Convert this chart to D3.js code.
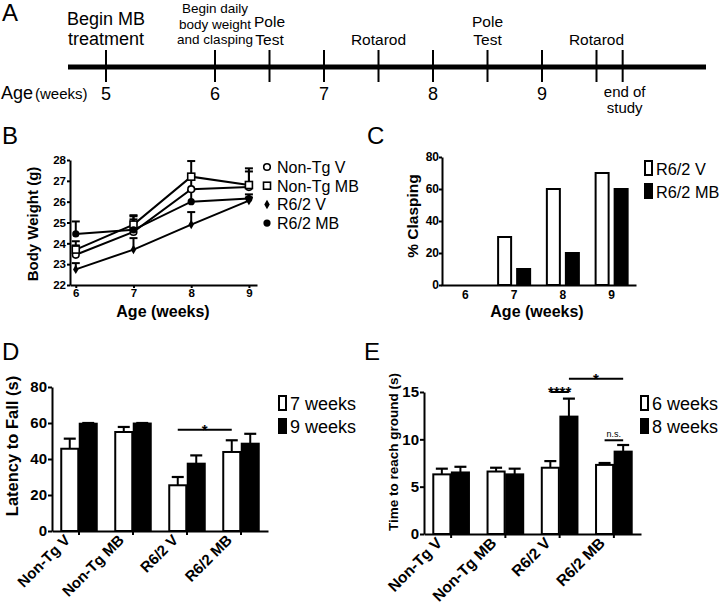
<!DOCTYPE html>
<html><head><meta charset="utf-8">
<script src="https://cdn.jsdelivr.net/npm/d3@7"></script>
<style>
body{margin:0;background:#fff}
svg{display:block}
text{font-family:"Liberation Sans",Arial,Helvetica,sans-serif;fill:#000}
</style>
</head><body>
<svg id="chart" width="720" height="606"></svg>
<script>
// ---------- Panel A: timeline ----------
const timelineWeeks = [5, 6, 7, 8, 9];
const timelineEvents = [
  {week: 5,   lines: ["Begin MB", "treatment"]},
  {week: 6,   lines: ["Begin daily", "body weight", "and clasping"]},
  {week: 6.5, lines: ["Pole", "Test"]},
  {week: 7.5, lines: ["Rotarod"]},
  {week: 8.5, lines: ["Pole", "Test"]},
  {week: 9.5, lines: ["Rotarod"]}
];
const endOfStudyWeek = 9.74;
const endOfStudyLines = ["end of", "study"];

// ---------- Panel B: body weight ----------
const bWeeks = [6, 7, 8, 9];
const bSeriesNames = ["Non-Tg V", "Non-Tg MB", "R6/2 V", "R6/2 MB"];
const bNonTgV     = [23.45, 24.55, 26.6, 26.7];
const bNonTgVErr  = [0.45, 0.6, 0.7, 0.75];
const bNonTgMB    = [23.7, 24.9, 27.2, 26.8];
const bNonTgMBErr = [0.4, 0.45, 0.75, 0.8];
const bR62V       = [22.75, 23.7, 24.9, 26.05];
const bR62VErr    = [0.3, 0.55, 0.6, 0.15];
const bR62MB      = [24.45, 24.65, 26.0, 26.15];
const bR62MBErr   = [0.6, 0.65, 0.55, 0.2];
const bYTicks = [22, 23, 24, 25, 26, 27, 28];

// ---------- Panel C: clasping ----------
const cWeeks = ["6", "7", "8", "9"];
const cSeriesNames = ["R6/2 V", "R6/2 MB"];
const cR62V  = [0, 30, 60, 70];
const cR62MB = [0, 10, 20, 60];
const cYTicks = [0, 20, 40, 60, 80];

// ---------- Panel D: rotarod ----------
const groups = ["Non-Tg V", "Non-Tg MB", "R6/2 V", "R6/2 MB"];
const dSeriesNames = ["7 weeks", "9 weeks"];
const d7w    = [45.7, 55.0, 25.4, 43.9];
const d7wErr = [5.6, 2.8, 4.6, 6.5];
const d9w    = [59.6, 59.7, 37.4, 48.5];
const d9wErr = [0.4, 0.3, 4.6, 5.5];
const dYTicks = [0, 20, 40, 60, 80];
const dSig = [{from: ["R6/2 V", 0], to: ["R6/2 MB", 0], value: 56.3, label: "*"}];

// ---------- Panel E: pole test ----------
const eSeriesNames = ["6 weeks", "8 weeks"];
const e6w    = [6.3, 6.6, 7.0, 7.3];
const e6wErr = [0.6, 0.4, 0.7, 0.2];
const e8w    = [6.5, 6.3, 12.4, 8.7];
const e8wErr = [0.6, 0.6, 1.9, 0.7];
const eYTicks = [0, 5, 10, 15];
const eSig = [
  {from: ["R6/2 V", 0], to: ["R6/2 V", 1], value: 15.0, label: "****"},
  {from: ["R6/2 V", 1], to: ["R6/2 MB", 1], value: 16.4, label: "*"},
  {from: ["R6/2 MB", 0], to: ["R6/2 MB", 1], value: 9.9, label: "n.s."}
];

// =====================================================
const svg = d3.select("#chart");
const FONT = '"Liberation Sans",Arial,Helvetica,sans-serif';

function styleAxis(g, fontSize) {
  g.selectAll("path.domain").attr("stroke", "#000").attr("stroke-width", 2);
  g.selectAll(".tick line").attr("stroke", "#000").attr("stroke-width", 2);
  g.selectAll(".tick text").attr("font-family", FONT).attr("font-weight", "bold")
    .attr("font-size", fontSize).attr("fill", "#000");
}

function panelLabel(t, x, y) {
  svg.append("text").attr("x", x).attr("y", y).attr("font-size", 24).text(t);
}

// ---------- Panel A ----------
(function () {
  const xA = d3.scaleLinear().domain([5, 9]).range([106, 542]);
  const g = svg.append("g");
  panelLabel("A", 2, 21);
  g.append("line").attr("x1", 68).attr("x2", 706).attr("y1", 67).attr("y2", 67)
    .attr("stroke", "#000").attr("stroke-width", 5);
  const tickWeeks = timelineWeeks.concat(timelineEvents.map(d => d.week), [endOfStudyWeek]);
  g.selectAll("line.tk").data(Array.from(new Set(tickWeeks))).join("line").attr("class", "tk")
    .attr("x1", d => xA(d)).attr("x2", d => xA(d)).attr("y1", 50).attr("y2", 82)
    .attr("stroke", "#000").attr("stroke-width", 2);
  g.selectAll("text.wk").data(timelineWeeks).join("text").attr("class", "wk")
    .attr("x", d => xA(d)).attr("y", 100).attr("text-anchor", "middle")
    .attr("font-size", 18).text(d => d);
  g.append("text").attr("x", 1).attr("y", 99).attr("font-size", 18).text("Age");
  g.append("text").attr("x", 35).attr("y", 99).attr("font-size", 15).text("(weeks)");
  timelineEvents.forEach((ev, i) => {
    const n = ev.lines.length;
    const fs = n === 3 ? 13.5 : (i === 0 ? 18 : 15.5);
    const lh = n === 3 ? 15.5 : (i === 0 ? 20 : 18);
    const base = n === 3 ? 44 : 45;
    ev.lines.forEach((ln, j) => {
      g.append("text").attr("x", xA(ev.week)).attr("y", base - (n - 1 - j) * lh)
        .attr("text-anchor", "middle").attr("font-size", fs).text(ln);
    });
  });
  endOfStudyLines.forEach((ln, j) => {
    g.append("text").attr("x", xA(endOfStudyWeek) + 2).attr("y", 97 + j * 16)
      .attr("text-anchor", "middle").attr("font-size", 15).text(ln);
  });
})();

// ---------- Panel B ----------
(function () {
  panelLabel("B", 2, 144);
  const x = d3.scaleLinear().domain([5.9, 9.14]).range([70, 257]);
  const y = d3.scaleLinear().domain([22, 28]).range([285, 160]);
  const g = svg.append("g");
  const gy = g.append("g").attr("transform", `translate(${x.range()[0]},0)`)
    .call(d3.axisLeft(y).tickValues(bYTicks).tickFormat(d3.format("d")).tickSize(3).tickPadding(1).tickSizeOuter(0));
  styleAxis(gy, 11.5);
  const gx = g.append("g").attr("transform", `translate(0,${y.range()[0]})`)
    .call(d3.axisBottom(x).tickValues(bWeeks).tickFormat(d3.format("d")).tickSize(3).tickPadding(1).tickSizeOuter(0));
  styleAxis(gx, 11.5);
  g.append("text").attr("x", 163).attr("y", 317).attr("text-anchor", "middle")
    .attr("font-weight", "bold").attr("font-size", 16).text("Age (weeks)");
  g.append("text").attr("transform", "translate(38,224) rotate(-90)").attr("text-anchor", "middle")
    .attr("font-weight", "bold").attr("font-size", 15).text("Body Weight (g)");

  const series = [
    {name: bSeriesNames[0], v: bNonTgV, e: bNonTgVErr, m: "circleOpen"},
    {name: bSeriesNames[1], v: bNonTgMB, e: bNonTgMBErr, m: "square"},
    {name: bSeriesNames[2], v: bR62V, e: bR62VErr, m: "diamond"},
    {name: bSeriesNames[3], v: bR62MB, e: bR62MBErr, m: "circleFilled"}
  ];
  const line = d3.line().x(d => x(d[0])).y(d => y(d[1]));
  series.forEach(s => {
    const pts = bWeeks.map((w, i) => [w, s.v[i], s.e[i]]);
    g.append("path").attr("d", line(pts)).attr("fill", "none").attr("stroke", "#000").attr("stroke-width", 2);
    pts.forEach(p => {
      g.append("line").attr("x1", x(p[0])).attr("x2", x(p[0])).attr("y1", y(p[1])).attr("y2", y(p[1] + p[2]))
        .attr("stroke", "#000").attr("stroke-width", 2);
      g.append("line").attr("x1", x(p[0]) - 4).attr("x2", x(p[0]) + 4).attr("y1", y(p[1] + p[2])).attr("y2", y(p[1] + p[2]))
        .attr("stroke", "#000").attr("stroke-width", 2);
    });
  });
  function marker(sel, m, cx, cy) {
    if (m === "circleOpen") sel.append("circle").attr("cx", cx).attr("cy", cy).attr("r", 3.3).attr("fill", "#fff").attr("stroke", "#000").attr("stroke-width", 1.6);
    if (m === "circleFilled") sel.append("circle").attr("cx", cx).attr("cy", cy).attr("r", 3.6).attr("fill", "#000");
    if (m === "square") sel.append("rect").attr("x", cx - 3.5).attr("y", cy - 3.5).attr("width", 7).attr("height", 7).attr("fill", "#fff").attr("stroke", "#000").attr("stroke-width", 1.6);
    if (m === "diamond") sel.append("path").attr("transform", `translate(${cx},${cy})`).attr("d", d3.symbol(d3.symbolDiamond, 26)()).attr("fill", "#000");
  }
  series.forEach(s => bWeeks.forEach((w, i) => marker(g, s.m, x(w), y(s.v[i]))));
  series.forEach((s, i) => {
    const cy = 167 + i * 18.7;
    marker(g, s.m, 267, cy);
    g.append("text").attr("x", 277).attr("y", cy + 5.8).attr("font-size", 16).text(s.name);
  });
})();

// ---------- Panel C ----------
(function () {
  panelLabel("C", 367, 144);
  const x0 = d3.scaleBand().domain(cWeeks).range([441, 636]);
  const x1 = d3.scaleBand().domain(cSeriesNames).range([0, x0.bandwidth()]).paddingInner(0.316).paddingOuter(0.44);
  const y = d3.scaleLinear().domain([0, 80]).range([285, 157]);
  const g = svg.append("g");
  const vals = [cR62V, cR62MB];
  cWeeks.forEach((wk, i) => {
    cSeriesNames.forEach((s, j) => {
      const v = vals[j][i];
      if (v <= 0) return;
      g.append("rect").attr("x", x0(wk) + x1(s)).attr("y", y(v)).attr("width", x1.bandwidth())
        .attr("height", y(0) - y(v)).attr("fill", j === 0 ? "#fff" : "#000").attr("stroke", "#000").attr("stroke-width", 2);
    });
  });
  const gy = g.append("g").attr("transform", `translate(${x0.range()[0] + 1},0)`)
    .call(d3.axisLeft(y).tickValues(cYTicks).tickSize(3).tickPadding(0).tickSizeOuter(0));
  styleAxis(gy, 12);
  const gx = g.append("g").attr("transform", `translate(0,${y(0)})`)
    .call(d3.axisBottom(x0).tickSize(0).tickPadding(5).tickSizeOuter(0));
  styleAxis(gx, 12);
  g.append("text").attr("x", 537).attr("y", 317).attr("text-anchor", "middle")
    .attr("font-weight", "bold").attr("font-size", 16).text("Age (weeks)");
  g.append("text").attr("transform", "translate(418,216) rotate(-90)").attr("text-anchor", "middle")
    .attr("font-weight", "bold").attr("font-size", 15.5).text("% Clasping");
  cSeriesNames.forEach((s, j) => {
    const top = 161 + j * 23;
    g.append("rect").attr("x", 645).attr("y", top).attr("width", 7).attr("height", 14)
      .attr("fill", j === 0 ? "#fff" : "#000").attr("stroke", "#000").attr("stroke-width", 2);
    g.append("text").attr("x", 656).attr("y", top + 14).attr("font-size", 16.3).text(s);
  });
})();

// ---------- Grouped bar panels D & E ----------
function groupedBars(o) {
  panelLabel(o.label, o.labelX, 360);
  const x0 = d3.scaleBand().domain(groups).range(o.xRange);
  const x1 = d3.scaleBand().domain([0, 1]).range([0, x0.bandwidth()]).paddingInner(0.08).paddingOuter(0.5);
  const y = d3.scaleLinear().domain(o.yDomain).range(o.yRange);
  const g = svg.append("g");
  const cx = (grp, k) => x0(grp) + x1(k) + x1.bandwidth() / 2;
  groups.forEach((grp, i) => {
    [0, 1].forEach(k => {
      const v = o.values[k][i], e = o.errors[k][i];
      const xc = cx(grp, k);
      g.append("line").attr("x1", xc).attr("x2", xc).attr("y1", y(v)).attr("y2", y(v + e))
        .attr("stroke", "#000").attr("stroke-width", 2);
      g.append("line").attr("x1", xc - 6).attr("x2", xc + 6).attr("y1", y(v + e)).attr("y2", y(v + e))
        .attr("stroke", "#000").attr("stroke-width", 2.2);
      g.append("rect").attr("x", x0(grp) + x1(k)).attr("y", y(v)).attr("width", x1.bandwidth())
        .attr("height", y(0) - y(v)).attr("fill", k === 0 ? "#fff" : "#000")
        .attr("stroke", "#000").attr("stroke-width", 2);
    });
  });
  const gy = g.append("g").attr("transform", `translate(${o.xRange[0]},0)`)
    .call(d3.axisLeft(y).tickValues(o.yTicks).tickSize(4).tickPadding(1).tickSizeOuter(0));
  styleAxis(gy, o.tickFont);
  const gx = g.append("g").attr("transform", `translate(0,${y(0)})`)
    .call(d3.axisBottom(x0).tickSize(4).tickSizeOuter(0));
  styleAxis(gx, o.tickFont);
  gx.selectAll(".tick text").attr("text-anchor", "end").attr("dy", 0).attr("y", 0)
    .attr("transform", "translate(-8,10) rotate(-45)").attr("font-size", o.xFont);
  g.append("text").attr("transform", `translate(${o.yTitleX},${o.yTitleY}) rotate(-90)`).attr("text-anchor", "middle")
    .attr("font-weight", "bold").attr("font-size", o.yTitleFont).text(o.yTitle);
  o.seriesNames.forEach((s, j) => {
    const top = 396 + j * 23;
    g.append("rect").attr("x", o.legendX).attr("y", top).attr("width", 7).attr("height", 14)
      .attr("fill", j === 0 ? "#fff" : "#000").attr("stroke", "#000").attr("stroke-width", 2);
    g.append("text").attr("x", o.legendX + 11).attr("y", top + 14).attr("font-size", 18).text(s);
  });
  o.sig.forEach(sg => {
    const xa = cx(sg.from[0], sg.from[1]), xb = cx(sg.to[0], sg.to[1]), yy = y(sg.value);
    g.append("line").attr("x1", xa).attr("x2", xb).attr("y1", yy).attr("y2", yy)
      .attr("stroke", "#000").attr("stroke-width", 2);
    const small = sg.label === "n.s.";
    g.append("text").attr("x", (xa + xb) / 2).attr("y", small ? yy - 3 : yy + 5)
      .attr("text-anchor", "middle").attr("font-weight", small ? "normal" : "bold")
      .attr("font-size", small ? 9 : 15).text(sg.label);
  });
}

groupedBars({
  label: "D", labelX: 2, xRange: [52, 268], yDomain: [0, 80], yRange: [531, 387],
  values: [d7w, d9w], errors: [d7wErr, d9wErr], yTicks: dYTicks, tickFont: 15, xFont: 15,
  yTitle: "Latency to Fall (s)", yTitleX: 18, yTitleY: 446, yTitleFont: 16.5,
  seriesNames: dSeriesNames, legendX: 279, sig: dSig
});
groupedBars({
  label: "E", labelX: 364, xRange: [424, 641], yDomain: [0, 15], yRange: [534, 392],
  values: [e6w, e8w], errors: [e6wErr, e8wErr], yTicks: eYTicks, tickFont: 15, xFont: 15.5,
  yTitle: "Time to reach ground (s)", yTitleX: 398, yTitleY: 452, yTitleFont: 13.5,
  seriesNames: eSeriesNames, legendX: 641, sig: eSig
});
</script>
</body></html>
